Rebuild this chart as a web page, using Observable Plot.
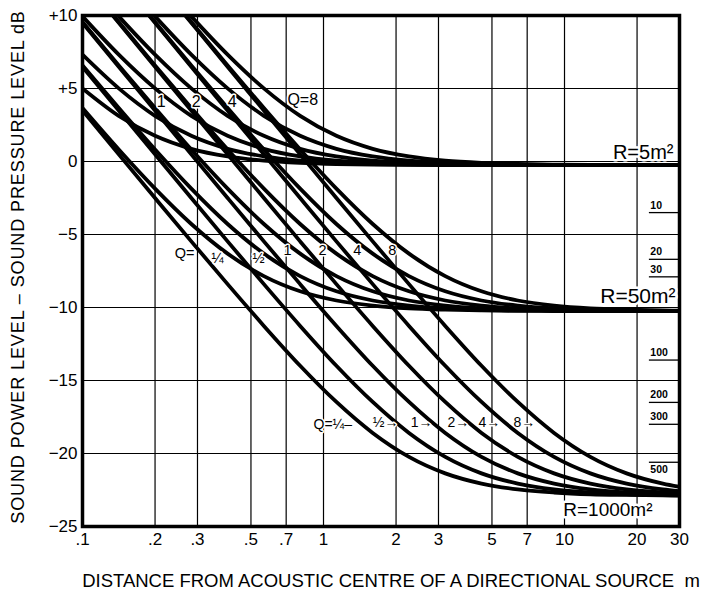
<!DOCTYPE html>
<html><head><meta charset="utf-8">
<script src="https://cdn.jsdelivr.net/npm/d3@7"></script>
<script src="https://cdn.jsdelivr.net/npm/@observablehq/plot@0.6"></script>
<style>body{margin:0;background:#fff}</style>
</head><body><div id="chart"></div>
<script>
// distance from acoustic centre, m
const distance = [0.1, 0.1414, 0.2, 0.2828, 0.4, 0.5657, 0.8, 1.131, 1.6, 2.263, 3.2, 4.525, 6.4, 9.051, 12.8, 18.1, 25.6, 30];

// Lw - Lp (dB), room constant R = 5 m²
const r5_q1_4 = [5.01, 3.13, 1.76, 0.87, 0.35, 0.06, -0.09, -0.17, -0.21, -0.23, -0.24, -0.245, -0.248, -0.25, -0.25, -0.25, -0.25, -0.25];
const r5_q1_2 = [7.32, 5.01, 3.13, 1.76, 0.87, 0.35, 0.06, -0.09, -0.17, -0.21, -0.23, -0.24, -0.245, -0.248, -0.25, -0.25, -0.25, -0.25];
const r5_q1   = [9.94, 7.32, 5.01, 3.13, 1.76, 0.87, 0.35, 0.06, -0.09, -0.17, -0.21, -0.23, -0.24, -0.245, -0.248, -0.25, -0.25, -0.25];
const r5_q2   = [12.74, 9.94, 7.32, 5.01, 3.13, 1.76, 0.87, 0.35, 0.06, -0.09, -0.17, -0.21, -0.23, -0.24, -0.245, -0.248, -0.25, -0.25];
const r5_q4   = [15.63, 12.74, 9.94, 7.32, 5.01, 3.13, 1.76, 0.87, 0.35, 0.06, -0.09, -0.17, -0.21, -0.23, -0.24, -0.245, -0.248, -0.25];
const r5_q8   = [18.59, 15.63, 12.74, 9.94, 7.32, 5.01, 3.13, 1.76, 0.87, 0.35, 0.06, -0.09, -0.17, -0.21, -0.23, -0.24, -0.245, -0.246];

// R = 50 m²
const r50_q1_4 = [3.66, 0.82, -1.86, -4.28, -6.31, -7.85, -8.89, -9.52, -9.87, -10.06, -10.15, -10.20, -10.23, -10.24, -10.244, -10.247, -10.25, -10.25];
const r50_q1_2 = [6.58, 3.66, 0.82, -1.86, -4.28, -6.31, -7.85, -8.89, -9.52, -9.87, -10.06, -10.15, -10.20, -10.23, -10.24, -10.244, -10.247, -10.248];
const r50_q1   = [9.55, 6.58, 3.66, 0.82, -1.86, -4.28, -6.31, -7.85, -8.89, -9.52, -9.87, -10.06, -10.15, -10.20, -10.23, -10.24, -10.244, -10.245];
const r50_q2   = [12.53, 9.55, 6.58, 3.66, 0.82, -1.86, -4.28, -6.31, -7.85, -8.89, -9.52, -9.87, -10.06, -10.15, -10.20, -10.23, -10.24, -10.241];
const r50_q4   = [15.53, 12.53, 9.55, 6.58, 3.66, 0.82, -1.86, -4.28, -6.31, -7.85, -8.89, -9.52, -9.87, -10.06, -10.15, -10.20, -10.23, -10.232];
const r50_q8   = [18.54, 15.53, 12.53, 9.55, 6.58, 3.66, 0.82, -1.86, -4.28, -6.31, -7.85, -8.89, -9.52, -9.87, -10.06, -10.15, -10.20, -10.214];

// R = 1000 m²
const r1000_q1_4 = [3.49, 0.49, -2.50, -5.47, -8.40, -11.26, -13.99, -16.47, -18.59, -20.23, -21.36, -22.06, -22.46, -22.67, -22.79, -22.84, -22.87, -22.88];
const r1000_q1_2 = [6.49, 3.49, 0.49, -2.50, -5.47, -8.40, -11.26, -13.99, -16.47, -18.59, -20.23, -21.36, -22.06, -22.46, -22.67, -22.79, -22.84, -22.86];
const r1000_q1   = [9.50, 6.49, 3.49, 0.49, -2.50, -5.47, -8.40, -11.26, -13.99, -16.47, -18.59, -20.23, -21.36, -22.06, -22.46, -22.67, -22.79, -22.82];
const r1000_q2   = [12.51, 9.50, 6.49, 3.49, 0.49, -2.50, -5.47, -8.40, -11.26, -13.99, -16.47, -18.59, -20.23, -21.36, -22.06, -22.46, -22.67, -22.73];
const r1000_q4   = [15.52, 12.51, 9.50, 6.49, 3.49, 0.49, -2.50, -5.47, -8.40, -11.26, -13.99, -16.47, -18.59, -20.23, -21.36, -22.06, -22.46, -22.58];
const r1000_q8   = [18.53, 15.52, 12.51, 9.50, 6.49, 3.49, 0.49, -2.50, -5.47, -8.40, -11.26, -13.99, -16.47, -18.59, -20.23, -21.36, -22.06, -22.28];

// ticks
const xTicks = [0.1, 0.2, 0.3, 0.5, 0.7, 1, 2, 3, 5, 7, 10, 20, 30];
const xTickLabels = [".1", ".2", ".3", ".5", ".7", "1", "2", "3", "5", "7", "10", "20", "30"];
const yTicks = [10, 5, 0, -5, -10, -15, -20, -25];
const yTickLabels = ["+10", "+5", "0", "\u22125", "\u221210", "\u221215", "\u221220", "\u221225"];

// room constant labels and their asymptotic levels
const roomLabels = ["R=5m\u00b2", "R=50m\u00b2", "R=1000m\u00b2"];
const asymptoteLevels = [-0.25, -10.25, -22.9];

// room-constant scale marks at the right edge
const rScaleMarks = ["10", "20", "30", "100", "200", "300", "500"];
const rScaleLevels = [-3.5, -6.7, -7.9, -13.6, -16.5, -18.0, -20.6];

// Q labels (text, distance m, level dB)
const qLabelsR5 = ["1", "2", "4", "Q=8"];
const qLabelsR5X = [0.212, 0.296, 0.418, 0.82];
const qLabelsR5Y = [4.1, 4.1, 4.1, 4.2];
const qLabelsR50 = ["Q=", "\u00bc", "\u00bd", "1", "2", "4", "8"];
const qLabelsR50X = [0.265, 0.363, 0.537, 0.709, 0.99, 1.38, 1.93];
const qLabelsR50Y = [-6.3, -6.6, -6.6, -6.1, -6.1, -6.1, -6.1];
const qLabelsR1000 = ["Q=\u00bc\u2013", "\u00bd\u2192", "1\u2192", "2\u2192", "4\u2192", "8\u2192"];
const qLabelsR1000X = [0.909, 1.60, 2.30, 3.27, 4.40, 6.14];
const qLabelsR1000Y = [-18.0, -17.9, -17.9, -17.9, -17.9, -17.9];

const xTitle = "DISTANCE FROM ACOUSTIC CENTRE OF A DIRECTIONAL SOURCE\u00a0\u00a0m";
const yTitle = "SOUND POWER LEVEL \u2013 SOUND PRESSURE LEVEL dB";

const series = [
  ["5", "1/4", r5_q1_4], ["5", "1/2", r5_q1_2], ["5", "1", r5_q1], ["5", "2", r5_q2], ["5", "4", r5_q4], ["5", "8", r5_q8],
  ["50", "1/4", r50_q1_4], ["50", "1/2", r50_q1_2], ["50", "1", r50_q1], ["50", "2", r50_q2], ["50", "4", r50_q4], ["50", "8", r50_q8],
  ["1000", "1/4", r1000_q1_4], ["1000", "1/2", r1000_q1_2], ["1000", "1", r1000_q1], ["1000", "2", r1000_q2], ["1000", "4", r1000_q4], ["1000", "8", r1000_q8]
];
const rows = series.flatMap(([R, Q, L]) => distance.map((r, i) => ({r, L: L[i], id: R + "-" + Q})));

const idx = a => a.map((_, i) => i);
const halo = {fill: "#000", stroke: "#fff", strokeWidth: 3};

const chart = Plot.plot({
  width: 711, height: 600,
  marginLeft: 82, marginRight: 32, marginTop: 15, marginBottom: 74,
  style: {fontFamily: "'Liberation Sans', Arial, sans-serif", fontSize: "17px", background: "#fff", color: "#000"},
  x: {type: "log", domain: [0.1, 30], axis: null},
  y: {domain: [-25, 10], ticks: yTicks, tickFormat: d => yTickLabels[yTicks.indexOf(d)], tickSize: 0, tickPadding: 5, label: null},
  marks: [
    Plot.gridX(xTicks.slice(1, -1), {stroke: "#000", strokeOpacity: 1, strokeWidth: 1.2}),
    Plot.gridY(yTicks.slice(1, -1), {stroke: "#000", strokeOpacity: 1, strokeWidth: 1.2}),
    Plot.text(idx(xTicks), {x: i => xTicks[i], text: i => xTickLabels[i], frameAnchor: "bottom", dy: 18, fontSize: 17}),
    Plot.ruleY(rScaleLevels, {x1: 22.5, x2: 30, stroke: "#000", strokeWidth: 1.3}),
    Plot.text(idx(rScaleMarks).slice(0, 6), {x: 22.7, y: i => rScaleLevels[i], text: i => rScaleMarks[i], textAnchor: "start", lineAnchor: "bottom", dy: -4, fontSize: 10.5, fontWeight: "bold"}),
    Plot.text(idx(rScaleMarks).slice(6), {x: 22.7, y: i => rScaleLevels[i], text: i => rScaleMarks[i], textAnchor: "start", lineAnchor: "top", dy: 3, fontSize: 10.5, fontWeight: "bold"}),
    Plot.line(rows, {x: "r", y: "L", z: "id", stroke: "#000", strokeWidth: 3.8, curve: "monotone-x", clip: true, strokeLinejoin: "round"}),
    Plot.frame({stroke: "#000", strokeWidth: 3.5}),
    Plot.text([0], {y: asymptoteLevels[0], text: [roomLabels[0]], frameAnchor: "right", dx: -6, dy: -6.6, textAnchor: "end", lineAnchor: "bottom", fontSize: 20, ...halo, strokeWidth: 5}),
    Plot.text([0], {y: asymptoteLevels[1], text: [roomLabels[1]], frameAnchor: "right", dx: -4, dy: -8.6, textAnchor: "end", lineAnchor: "bottom", fontSize: 21, ...halo, strokeWidth: 5}),
    Plot.text([0], {y: asymptoteLevels[2], text: [roomLabels[2]], frameAnchor: "right", dx: -27, dy: 7, textAnchor: "end", lineAnchor: "top", fontSize: 19, ...halo, strokeWidth: 5}),
    Plot.text(idx(qLabelsR5), {x: i => qLabelsR5X[i], y: i => qLabelsR5Y[i], text: i => qLabelsR5[i], fontSize: 16, ...halo}),
    Plot.text(idx(qLabelsR50), {x: i => qLabelsR50X[i], y: i => qLabelsR50Y[i], text: i => qLabelsR50[i], fontSize: 14.5, ...halo}),
    Plot.text(idx(qLabelsR1000), {x: i => qLabelsR1000X[i], y: i => qLabelsR1000Y[i], text: i => qLabelsR1000[i], textAnchor: "start", fontSize: 14, ...halo}),
    Plot.text([yTitle], {frameAnchor: "left", dx: -64, dy: -4, rotate: -90, textAnchor: "middle", fontSize: 18}),
    Plot.text([xTitle], {frameAnchor: "bottom", dx: 10, dy: 60, textAnchor: "middle", fontSize: 18.5})
  ]
});
d3.select(chart).selectAll("text").filter(function(){ return this.textContent === yTitle; }).style("letter-spacing", "0.9px");
document.getElementById("chart").appendChild(chart);
</script>
</body></html>
